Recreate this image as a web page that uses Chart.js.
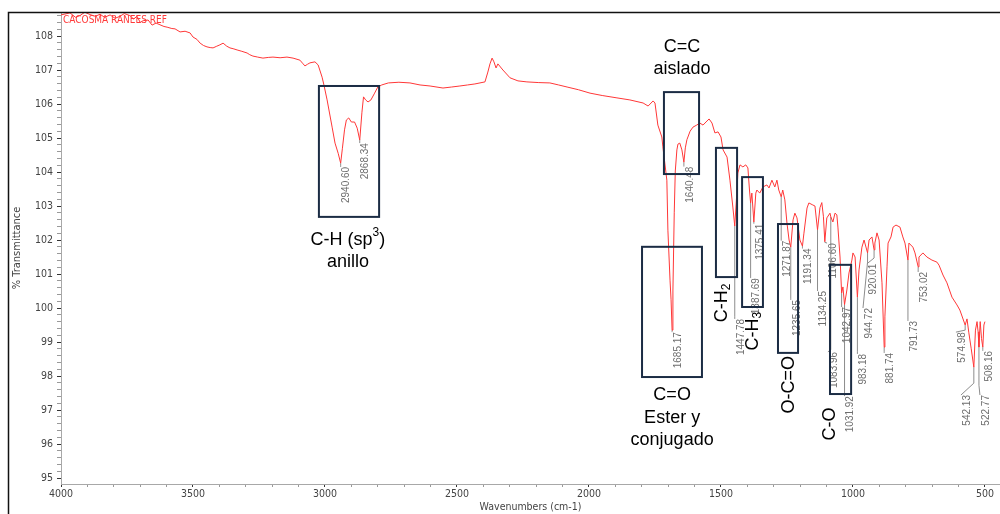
<!DOCTYPE html>
<html>
<head>
<meta charset="utf-8">
<script src="https://cdn.jsdelivr.net/npm/chart.js@4.4.1/dist/chart.umd.min.js"></script>
<style>
  html, body { margin: 0; padding: 0; background: #fff; }
  #wrap { width: 1000px; height: 514px; }
</style>
</head>
<body>
<div id="wrap"><canvas id="ir" width="1000" height="514"></canvas></div>
<script>
// Espectro IR: número de onda (cm-1) y % transmitancia
const wavenumbers = [
  4000, 3966, 3945, 3928, 3910, 3890, 3870, 3852, 3835, 3814, 3795, 3777, 3760, 3739, 3725, 3712,
  3700, 3689, 3670, 3655, 3640, 3625, 3610, 3598, 3580, 3568, 3549, 3530, 3511, 3500, 3485, 3473,
  3460, 3447, 3435, 3424, 3410, 3398, 3386, 3372, 3360, 3345, 3333, 3315, 3295, 3285, 3273, 3255,
  3235, 3215, 3197, 3170, 3144, 3121, 3095, 3085, 3076, 3066, 3057, 3038, 3026, 3011, 3004, 2992,
  2973, 2962, 2950, 2940.6, 2934, 2926, 2919, 2910, 2900, 2888, 2878, 2868.34, 2860, 2854, 2846, 2837,
  2826, 2812, 2800, 2785, 2760, 2720, 2678, 2640, 2602, 2553, 2520, 2489, 2460, 2432, 2394, 2383,
  2375, 2367, 2360, 2352, 2345, 2326, 2299, 2269, 2235, 2190, 2148, 2115, 2083, 2040, 1996, 1950,
  1894, 1845, 1795, 1776, 1757, 1750, 1739, 1724, 1720, 1705, 1701, 1693, 1689, 1685.17, 1682, 1677,
  1673, 1667, 1663, 1656, 1648, 1640.48, 1635, 1629, 1617, 1606, 1592, 1580, 1568, 1553, 1545, 1534,
  1523, 1511, 1500, 1492, 1477, 1466, 1455, 1447.78, 1440, 1436, 1428, 1417, 1406, 1398, 1392, 1387.69,
  1383, 1375.41, 1368, 1364, 1353, 1341, 1326, 1318, 1307, 1296, 1288, 1281, 1271.87, 1266, 1258, 1250,
  1242, 1235.65, 1227, 1220, 1212, 1201, 1191.34, 1186, 1174, 1167, 1152, 1144, 1134.25, 1125, 1118, 1112,
  1106.6, 1099, 1087, 1083.96, 1076, 1068, 1061, 1057, 1049, 1042.97, 1038, 1031.92, 1023, 1015, 1004, 1000,
  992, 983.18, 977, 966, 958, 944.72, 939, 928, 920.01, 917, 909, 901, 890, 881.74, 879, 871,
  867, 856, 848, 837, 822, 811, 803, 791.73, 788, 773, 765, 753.02, 750, 735, 720, 701,
  682, 674, 659, 644, 625, 606, 595, 574.98, 568, 561, 552, 542.13, 536, 530, 526, 522.77,
  518, 513, 508.16, 504, 500
];
const transmittance = [
  108.62, 108.68, 108.55, 108.60, 108.70, 108.63, 108.58, 108.64, 108.55, 108.62, 108.52, 108.58, 108.66, 108.60, 108.50, 108.58,
  108.40, 108.45, 108.47, 108.32, 108.38, 108.33, 108.28, 108.26, 108.22, 108.21, 108.12, 108.14, 108.09, 107.97, 107.90, 107.79,
  107.72, 107.68, 107.66, 107.65, 107.70, 107.74, 107.79, 107.70, 107.65, 107.62, 107.59, 107.55, 107.50, 107.45, 107.41, 107.38,
  107.35, 107.37, 107.38, 107.36, 107.38, 107.35, 107.29, 107.20, 107.12, 107.17, 107.21, 107.24, 107.15, 106.79, 106.56, 106.12,
  105.32, 104.85, 104.55, 104.26, 104.70, 105.24, 105.53, 105.59, 105.47, 105.47, 105.29, 104.94, 105.76, 106.21, 106.12, 106.06,
  106.12, 106.32, 106.50, 106.56, 106.62, 106.64, 106.62, 106.56, 106.53, 106.47, 106.50, 106.53, 106.56, 106.59, 106.65, 106.94,
  107.18, 107.35, 107.24, 107.06, 107.18, 107.00, 106.77, 106.68, 106.65, 106.63, 106.62, 106.56, 106.50, 106.42, 106.32, 106.25,
  106.18, 106.12, 106.03, 105.94, 106.09, 106.03, 105.38, 105.03, 104.74, 103.76, 102.29, 100.82, 100.24, 99.35, 100.50, 102.80,
  104.03, 104.65, 104.82, 104.85, 104.65, 104.29, 104.71, 104.95, 105.20, 105.32, 105.38, 105.44, 105.38, 105.50, 105.56, 105.44,
  105.15, 105.18, 105.03, 104.65, 104.44, 103.76, 102.97, 102.41, 103.38, 103.97, 104.21, 104.15, 104.21, 104.12, 103.47, 103.09,
  103.38, 102.53, 103.38, 103.47, 103.38, 103.56, 103.62, 103.53, 103.76, 103.56, 103.76, 103.47, 103.27, 103.47, 103.18, 102.50,
  102.00, 101.79, 102.59, 102.79, 102.65, 102.00, 101.82, 102.18, 102.94, 103.09, 103.03, 103.00, 102.30, 102.95, 103.10, 102.70,
  101.95, 102.65, 102.79, 102.68, 102.53, 102.79, 102.74, 102.38, 101.50, 100.44, 100.62, 100.10, 100.53, 101.03, 101.41, 101.62,
  101.50, 100.32, 101.12, 101.79, 102.00, 101.62, 102.00, 102.09, 101.71, 101.91, 102.21, 102.00, 100.74, 98.85, 99.74, 101.21,
  101.91, 102.09, 102.38, 102.44, 102.38, 102.09, 101.91, 101.41, 101.91, 101.79, 101.62, 101.21, 101.50, 101.62, 101.50, 101.41,
  101.35, 101.26, 100.97, 100.74, 100.32, 100.09, 99.94, 99.50, 99.68, 99.27, 98.80, 98.26, 99.35, 99.60, 99.30, 98.85,
  99.60, 99.10, 98.85, 99.50, 99.60
];

// Ejes
const xTickLabels = [4000, 3500, 3000, 2500, 2000, 1500, 1000, 500];
const yTickLabels = [95, 96, 97, 98, 99, 100, 101, 102, 103, 104, 105, 106, 107, 108];
const sampleName = 'CACOSMA RANEES REF';

// Etiquetas de picos: texto, número de onda, fin de la guía, columna del texto, inicio del texto
const peakMarks = [
  { text: '2940.60', wn: 2940.6, end: 104.18, tw: null, top: 104.15 },
  { text: '2868.34', wn: 2868.34, end: 104.85, tw: null, top: 104.85 },
  { text: '1685.17', wn: 1685.17, end: 99.31, tw: null, top: 99.29 },
  { text: '1640.48', wn: 1640.48, end: 104.18, tw: null, top: 104.16 },
  { text: '1447.78', wn: 1447.78, end: 99.74, tw: null, top: 99.68 },
  { text: '1387.69', wn: 1387.69, end: 100.91, tw: null, top: 100.88 },
  { text: '1375.41', wn: 1375.41, end: 102.50, tw: null, top: 102.48 },
  { text: '1271.87', wn: 1271.87, end: 102.00, tw: null, top: 101.98 },
  { text: '1235.65', wn: 1235.65, end: 100.29, tw: null, top: 100.24 },
  { text: '1191.34', wn: 1191.34, end: 101.77, tw: null, top: 101.75 },
  { text: '1134.25', wn: 1134.25, end: 100.53, tw: null, top: 100.50 },
  { text: '1106.60', wn: 1106.6, end: 101.93, tw: 1098, top: 101.91 },
  { text: '1083.96', wn: 1083.96, end: 98.77, tw: 1095, top: 98.71 },
  { text: '1042.97', wn: 1042.97, end: 100.06, tw: null, top: 100.03 },
  { text: '1031.92', wn: 1031.92, end: 97.47, tw: null, top: 97.41 },
  { text: '983.18', wn: 983.18, end: 98.71, tw: null, top: 98.65 },
  { text: '944.72', wn: 944.72, end: 101.35, tw: 962, top: 100.00 },
  { text: '920.01', wn: 920.01, end: 101.47, tw: 947, top: 101.30 },
  { text: '881.74', wn: 881.74, end: 98.71, tw: null, top: 98.68 },
  { text: '791.73', wn: 791.73, end: 99.65, tw: null, top: 99.62 },
  { text: '753.02', wn: 753.02, end: 101.12, tw: null, top: 101.06 },
  { text: '574.98', wn: 574.98, end: 99.35, tw: 610, top: 99.29 },
  { text: '542.13', wn: 542.13, end: 97.79, tw: 591, top: 97.44 },
  { text: '522.77', wn: 522.77, end: 97.73, tw: 519, top: 97.44 },
  { text: '508.16', wn: 508.16, end: 98.77, tw: null, top: 98.74 }
];

// Recuadros de grupos funcionales (cm-1 desde / hasta, %T arriba / abajo)
const groupBoxes = [
  [3023, 2795, 106.53, 102.68],
  [1716, 1583, 106.35, 103.94],
  [1799, 1572, 101.80, 97.97],
  [1519, 1439, 104.71, 100.91],
  [1420, 1341, 103.85, 100.03],
  [1284, 1208, 102.47, 98.68],
  [1087, 1007, 101.27, 97.47]
];

// Rótulos de grupos: partes [texto, 0 normal / 1 superíndice / -1 subíndice]
const groupLabels = [
  { wn: 1648, t: 107.68, parts: [['C=C', 0]] },
  { wn: 1648, t: 107.03, parts: [['aislado', 0]] },
  { wn: 2913, t: 102.00, parts: [['C-H (sp', 0], ['3', 1], [')', 0]] },
  { wn: 2913, t: 101.35, parts: [['anillo', 0]] },
  { wn: 1685, t: 97.44, parts: [['C=O', 0]] },
  { wn: 1685, t: 96.77, parts: [['Ester y', 0]] },
  { wn: 1685, t: 96.12, parts: [['conjugado', 0]] },
  { wn: 1496, t: 100.15, rot: true, parts: [['C-H', 0], ['2', -1]] },
  { wn: 1379, t: 99.32, rot: true, parts: [['C-H', 0], ['3', -1]] },
  { wn: 1242, t: 97.74, rot: true, parts: [['O-C=O', 0]] },
  { wn: 1087, t: 96.59, rot: true, parts: [['C-O', 0]] }
];

const NARROW = "'Liberation Sans Narrow', 'Arial Narrow', 'DejaVu Sans Condensed', sans-serif";
const ARIAL = "'Liberation Sans', Arial, sans-serif";

const xMinor = [];
for (let v = 4000; v >= 500; v -= 100) xMinor.push(v);
const yMinor = [];
for (let i = 0; i <= 68; i++) yMinor.push(Math.round((95 + i * 0.2) * 10) / 10);

function curveAt(wn) {
  for (let i = 0; i < wavenumbers.length - 1; i++) {
    const a = wavenumbers[i], b = wavenumbers[i + 1];
    if (wn <= a && wn >= b) {
      const f = (a - wn) / (a - b);
      return transmittance[i] + f * (transmittance[i + 1] - transmittance[i]);
    }
  }
  return transmittance[transmittance.length - 1];
}

function drawParts(ctx, parts, size) {
  // mide y dibuja centrado en (0,0)
  const widths = parts.map(([t, s]) => {
    ctx.font = `${s ? Math.round(size * 0.65) : size}px ${ARIAL}`;
    return ctx.measureText(t).width;
  });
  let x = -widths.reduce((a, b) => a + b, 0) / 2;
  parts.forEach(([t, s], i) => {
    ctx.font = `${s ? Math.round(size * 0.65) : size}px ${ARIAL}`;
    const dy = s === 1 ? -size * 0.38 : s === -1 ? size * 0.28 : 0;
    ctx.textAlign = 'left';
    ctx.fillText(t, x, dy);
    x += widths[i];
  });
}

const leaders = {
  id: 'leaders',
  beforeDatasetsDraw(chart) {
    const { ctx, scales: { x, y } } = chart;
    ctx.save();
    ctx.strokeStyle = '#8c8c8c';
    ctx.lineWidth = 1;
    peakMarks.forEach(p => {
      const px = x.getPixelForValue(p.wn);
      const lx = x.getPixelForValue(p.tw == null ? p.wn : p.tw);
      ctx.beginPath();
      ctx.moveTo(px, y.getPixelForValue(curveAt(p.wn)));
      ctx.lineTo(px, y.getPixelForValue(p.end));
      ctx.lineTo(lx, y.getPixelForValue(p.top));
      ctx.stroke();
    });
    ctx.restore();
  },
  afterDatasetsDraw(chart) {
    const { ctx, scales: { x, y } } = chart;
    ctx.save();

    // nombre de la muestra
    ctx.fillStyle = '#ff3a3a';
    ctx.font = `10px ${NARROW}`;
    ctx.textAlign = 'left';
    ctx.textBaseline = 'top';
    ctx.fillText(sampleName, x.left + 2, y.top + 3);

    // números de picos
    ctx.fillStyle = '#6e6e6e';
    ctx.font = `10px ${ARIAL}`;
    peakMarks.forEach(p => {
      const lx = x.getPixelForValue(p.tw == null ? p.wn : p.tw);
      ctx.save();
      ctx.translate(lx + 6, y.getPixelForValue(p.top));
      ctx.rotate(-Math.PI / 2);
      ctx.textAlign = 'right';
      ctx.textBaseline = 'middle';
      ctx.fillText(p.text, 0, 0);
      ctx.restore();
    });

    // recuadros
    ctx.strokeStyle = '#1b2c44';
    ctx.lineWidth = 2;
    groupBoxes.forEach(([w1, w2, t1, t2]) => {
      const x1 = x.getPixelForValue(w1), x2 = x.getPixelForValue(w2);
      const y1 = y.getPixelForValue(t1), y2 = y.getPixelForValue(t2);
      ctx.strokeRect(x1, y1, x2 - x1, y2 - y1);
    });

    // rótulos
    ctx.fillStyle = '#000';
    ctx.textBaseline = 'middle';
    groupLabels.forEach(g => {
      ctx.save();
      ctx.translate(x.getPixelForValue(g.wn), y.getPixelForValue(g.t));
      if (g.rot) ctx.rotate(-Math.PI / 2);
      drawParts(ctx, g.parts, 18);
      ctx.restore();
    });

    ctx.restore();
  },
  afterDraw(chart) {
    const { ctx } = chart;
    ctx.save();
    ctx.strokeStyle = '#111';
    ctx.lineWidth = 1.5;
    ctx.beginPath();
    ctx.moveTo(8.5, 514);
    ctx.lineTo(8.5, 12.5);
    ctx.lineTo(1000, 12.5);
    ctx.stroke();
    ctx.restore();
  }
};

new Chart(document.getElementById('ir'), {
  type: 'line',
  data: {
    datasets: [{
      data: wavenumbers.map((w, i) => ({ x: w, y: transmittance[i] })),
      borderColor: 'rgb(255, 55, 55)',
      borderWidth: 1,
      pointRadius: 0,
      tension: 0,
      fill: false
    }]
  },
  options: {
    responsive: false,
    animation: false,
    devicePixelRatio: 1,
    layout: { padding: { top: 12, left: 0, right: 0, bottom: 0 } },
    plugins: { legend: { display: false }, tooltip: { enabled: false } },
    scales: {
      x: {
        type: 'linear',
        reverse: true,
        min: 443,
        max: 4000,
        afterBuildTicks: s => { s.ticks = xMinor.map(v => ({ value: v })); },
        afterFit: s => { s.height = 30; },
        ticks: {
          autoSkip: false, maxRotation: 0, minRotation: 0, padding: 1,
          color: '#444', font: { family: NARROW, size: 10.5 },
          callback: v => xTickLabels.includes(v) ? String(v) : ''
        },
        grid: {
          drawOnChartArea: false, tickLength: 3,
          tickColor: c => xTickLabels.includes(c.tick && c.tick.value) ? '#333' : '#999'
        },
        border: { color: '#a8a8a8', width: 1 },
        title: {
          display: true, text: 'Wavenumbers (cm-1)', color: '#444',
          font: { family: NARROW, size: 10.5 }, padding: { top: 0, bottom: 0 }
        }
      },
      y: {
        type: 'linear',
        min: 94.824,
        max: 108.706,
        afterBuildTicks: s => { s.ticks = yMinor.map(v => ({ value: v })); },
        afterFit: s => { s.width = 61; },
        ticks: {
          autoSkip: false, padding: 4,
          color: '#444', font: { family: NARROW, size: 10.5 },
          callback: v => yTickLabels.includes(v) ? String(v) : ''
        },
        grid: {
          drawOnChartArea: false, tickLength: 4,
          tickColor: c => yTickLabels.includes(c.tick && c.tick.value) ? '#333' : '#999'
        },
        border: { color: '#a8a8a8', width: 1 },
        title: {
          display: true, text: '% Transmittance', color: '#444',
          font: { family: NARROW, size: 11 }, padding: { top: 11, bottom: 0 }
        }
      }
    }
  },
  plugins: [leaders]
});
</script>
</body>
</html>
